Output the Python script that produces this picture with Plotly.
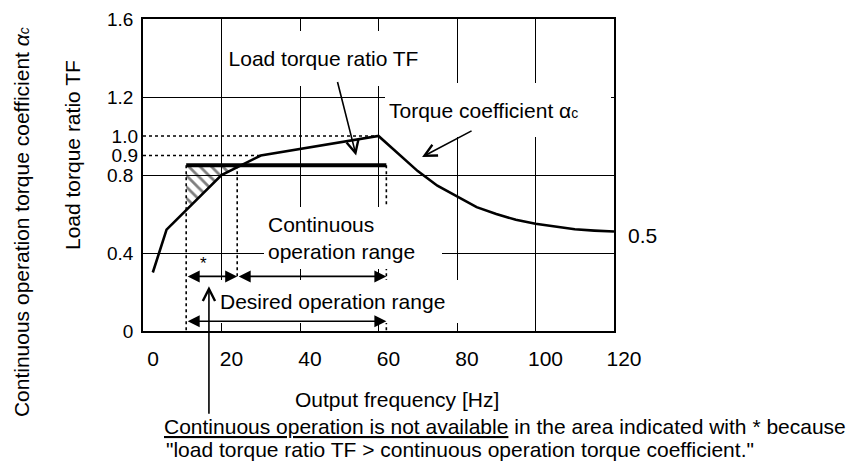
import numpy as np
import plotly.graph_objects as go

# Continuous operation torque coefficient (alpha c)
freq_hz = [2.5, 6, 20, 30, 60, 65, 70, 75, 80, 85, 90, 95, 100, 105, 110, 115, 120]
alpha_c = [0.30, 0.52, 0.80, 0.90, 1.00, 0.91, 0.82, 0.745, 0.69, 0.635, 0.60, 0.57, 0.55, 0.535, 0.522, 0.515, 0.51]

# Load torque ratio TF and the operation ranges
load_tf = 0.85
desired_range = [11, 62]
continuous_start = 24
range_arrow_y = 0.28
desired_arrow_y = 0.05

# Axis ticks
x_ticks = [0, 20, 40, 60, 80, 100, 120]
y_ticks = [0, 0.4, 0.8, 1.2, 1.6]
y_ticks_extra = [0.9, 1.0]

FONT = "Liberation Sans, Arial, sans-serif"
lo, hi = desired_range

# corners of the hatched area (TF above alpha c)
cross_hz = float(np.interp(load_tf, alpha_c[2:4], freq_hz[2:4]))
hatch_x = [lo, cross_hz, freq_hz[2], lo, lo]
hatch_y = [load_tf, load_tf, alpha_c[2], float(np.interp(lo, freq_hz, alpha_c)), load_tf]

fig = go.Figure()

fig.add_trace(go.Scatter(x=hatch_x, y=hatch_y, mode="lines", fill="toself",
                         line=dict(width=0), fillcolor="rgba(0,0,0,0)",
                         fillpattern=dict(shape="\\", fgcolor="black", bgcolor="rgba(0,0,0,0)",
                                          size=8, solidity=0.35)))

# dotted guide lines
dot = dict(color="black", width=1.6, dash="dot")
guides = [
    ([0, freq_hz[4]], [alpha_c[4], alpha_c[4]]),
    ([0, freq_hz[3]], [alpha_c[3], alpha_c[3]]),
    ([lo, lo], [load_tf, 0]),
    ([hi, hi], [load_tf, 0]),
    ([continuous_start, continuous_start], [load_tf, range_arrow_y]),
]
for gx, gy in guides:
    fig.add_trace(go.Scatter(x=gx, y=gy, mode="lines", line=dot, yaxis="y2"))

fig.add_trace(go.Scatter(x=freq_hz, y=alpha_c, mode="lines",
                         line=dict(color="black", width=2.6)))
fig.add_trace(go.Scatter(x=[lo, hi], y=[load_tf, load_tf], mode="lines",
                         line=dict(color="black", width=4.2)))

ann = []


def box(text, x, y, w, h, pad=0, align="center", xanchor="center"):
    ann.append(dict(text=text, x=x, y=y, xref="x", yref="y", showarrow=False,
                    bgcolor="white", width=w, height=h, borderpad=pad, borderwidth=0,
                    align=align, xanchor=xanchor, yanchor="middle",
                    font=dict(size=21)))


box("Load torque ratio TF", 46.0, 1.40, 203, 55)
box("Torque coefficient α<span style='font-size:14px'>c</span>", 61.7, 1.133, 218, 46,
    pad=4, align="left", xanchor="left")
box("Continuous<br>operation range", 53.5, 0.477, 170, 54, pad=4, align="left")
box("Desired operation range", 50.1, 0.151, 239, 41, pad=1, align="left")

# range arrows
for x0, x1, yy in [(lo, continuous_start, range_arrow_y),
                   (continuous_start, hi, range_arrow_y),
                   (lo, hi, desired_arrow_y)]:
    ann.append(dict(x=x1, y=yy, ax=x0, ay=yy, xref="x", yref="y", axref="x", ayref="y",
                    text="", showarrow=True, arrowside="end+start",
                    arrowhead=2, startarrowhead=2, arrowsize=1.5, startarrowsize=1.5,
                    arrowwidth=1.6, arrowcolor="black", standoff=0, startstandoff=0))

# pointer arrows
for hx, hy, ax, ay in [(54.3, 0.90, -19, -75), (71.1, 0.892, 51, -27), (16.8, 0.23, 0, 129)]:
    ann.append(dict(x=hx, y=hy, ax=ax, ay=ay, xref="x", yref="y", text="", showarrow=True,
                    arrowhead=5, arrowsize=1.5, arrowwidth=1.6, arrowcolor="black", standoff=0))

ann.append(dict(text="*", x=15.3, y=0.345, xref="x", yref="y", showarrow=False, font=dict(size=17)))
ann.append(dict(text="0.5", x=120, y=0.49, xref="x", yref="y", showarrow=False,
                xanchor="left", xshift=12, font=dict(size=21)))


def note(text, x, y, xanchor="center", angle=0):
    ann.append(dict(text=text, x=x, y=y, xref="paper", yref="paper", textangle=angle,
                    xanchor=xanchor, yanchor="middle", showarrow=False, borderpad=0,
                    font=dict(size=21)))


# titles and notes
note("Load torque ratio TF", -0.1507, 0.564, angle=-90)
note("Continuous operation torque coefficient <i>α</i><i><span style='font-size:14px'>c</span></i>",
     -0.259, 0.349, angle=-90)
note("Output frequency [Hz]", 0.540, -0.221)
note("<u>Continuous operation is not available</u> in the area indicated with * because",
     0.0425, -0.307, xanchor="left")
note("\"load torque ratio TF > continuous operation torque coefficient.\"",
     0.0467, -0.380, xanchor="left")

# the page body adds 8px around the figure, so the figure is 8px smaller
fig.update_layout(
    width=853, height=454,
    margin=dict(l=135, r=247, t=11, b=131, autoexpand=False),
    paper_bgcolor="white", plot_bgcolor="white",
    font=dict(family=FONT, color="black", size=21),
    showlegend=False,
    annotations=ann,
    xaxis=dict(range=[0, 120], tickvals=x_ticks, ticktext=[str(v) for v in x_ticks],
               showgrid=True, gridcolor="black", gridwidth=1.2,
               showline=True, mirror=True, linecolor="black", linewidth=1.6,
               zeroline=False, ticks="", ticklabelshift=10, ticklabelstandoff=8,
               tickfont=dict(size=21)),
    yaxis=dict(range=[0, 1.6], tickvals=y_ticks, ticktext=["0", "0.4", "0.8", "1.2", "1.6"],
               showgrid=True, gridcolor="black", gridwidth=1.2,
               showline=True, mirror=True, linecolor="black", linewidth=1.6,
               zeroline=False, ticks="", ticklabelstandoff=4, tickfont=dict(size=19)),
    yaxis2=dict(range=[0, 1.6], overlaying="y", side="left", anchor="x",
                tickvals=y_ticks_extra, ticktext=["0.9", "1.0"],
                showgrid=False, showline=False, zeroline=False, ticks="",
                ticklabelstandoff=4, tickfont=dict(size=19)),
)

fig.write_html("out.html")
